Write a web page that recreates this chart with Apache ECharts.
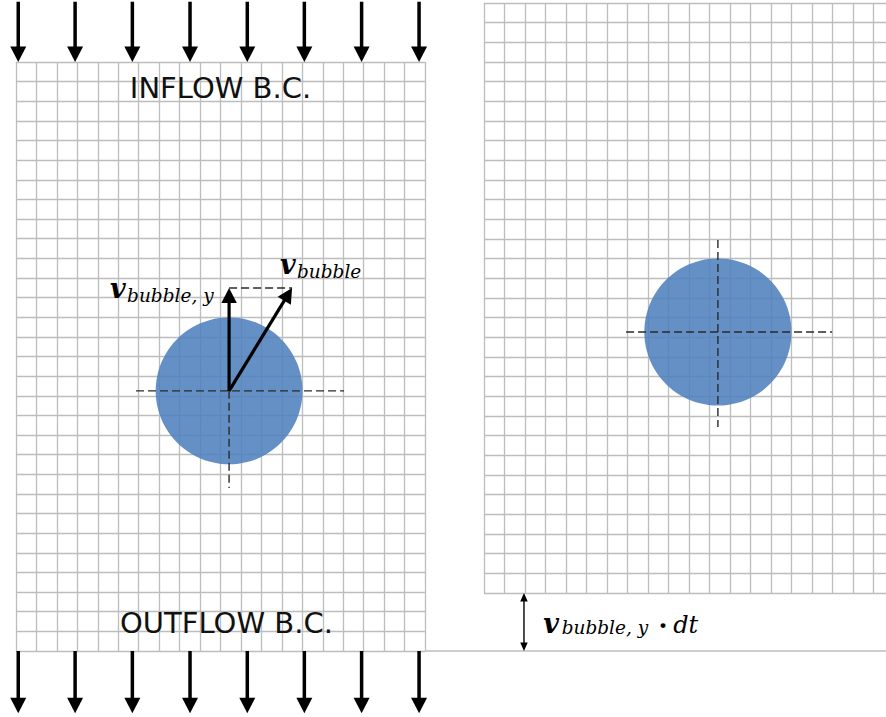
<!DOCTYPE html>
<html><head><meta charset="utf-8">
<script src="https://cdn.jsdelivr.net/npm/echarts@6/dist/echarts.min.js"></script>
<style>html,body{margin:0;padding:0;background:#fff}#c{width:886px;height:717px}</style>
</head><body><div id="c"></div>
<script>
// ---------- data (all in mesh-cell units) ----------
const meshCols = 20;
const meshRows = 30;
const flowArrowX = [0.11, 2.89, 5.69, 8.51, 11.31, 14.10, 16.90, 19.71];
const inflowArrowY = [33.07, 30.0];
const outflowArrowY = [0.0, -3.17];
const bubbleBefore = [[10.42, 13.25]];
const bubbleAfter = [[11.41, 13.27]];
const bubbleRadius = 3.59;
const crossBefore = [[5.87, 13.25, 16.04, 13.25], [10.42, 13.25, 10.42, 8.30]];
const crossAfter = [[6.93, 13.27, 16.98, 13.27], [11.41, 17.95, 11.41, 8.44]];
const velocityArrows = [[10.42, 13.25, 10.42, 18.49], [10.42, 13.25, 13.50, 18.49]];
const velocityGuide = [[10.42, 18.49, 13.50, 18.49]];
const bottomExtension = [[20, 0, 44, 0]];
const shiftArrow = [[1.95, 0, 1.95, -2.95]];
const bcLabelText = ['INFLOW B.C.', 'OUTFLOW B.C.'];
const bcLabelPos = [[10.0, 28.68], [10.29, 1.45]];
const velLabelSub = ['bubble, y', 'bubble'];
const velLabelPos = [[4.60, 18.0], [12.91, 19.19]];
const dtLabelSub = ['bubble, y'];
const dtLabelPos = [[2.89, -2.05]];

// ---------- styles ----------
const MESH_COLOR = '#bdbdbd';
const BUBBLE_FILL = 'rgba(79,129,189,0.88)';
const DASH = { stroke: '#2a2a2a', lineWidth: 1.4, lineDash: [8, 4] };

function arrow(p0, p1, shaftW, headL, headW, color, both) {
  const dx = p1[0] - p0[0], dy = p1[1] - p0[1];
  const len = Math.hypot(dx, dy);
  const ux = dx / len, uy = dy / len, nx = -uy, ny = ux;
  const bx = p1[0] - ux * headL, by = p1[1] - uy * headL;
  let sx = p0[0], sy = p0[1];
  const kids = [];
  if (both) {
    const ax = p0[0] + ux * headL, ay = p0[1] + uy * headL;
    kids.push({ type: 'polygon', shape: { points: [[p0[0], p0[1]], [ax + nx * headW / 2, ay + ny * headW / 2], [ax - nx * headW / 2, ay - ny * headW / 2]] }, style: { fill: color } });
    sx = ax - ux; sy = ay - uy;
  }
  kids.push({ type: 'line', shape: { x1: sx, y1: sy, x2: bx + ux, y2: by + uy }, style: { stroke: color, lineWidth: shaftW } });
  kids.push({ type: 'polygon', shape: { points: [[p1[0], p1[1]], [bx + nx * headW / 2, by + ny * headW / 2], [bx - nx * headW / 2, by - ny * headW / 2]] }, style: { fill: color } });
  return { type: 'group', children: kids };
}

function segData(arr) { return arr.map(a => a.slice()); }

const MAIN_FS = 27, SUB_FS = 18.5;
function mathV(px, py, sub, dx, dy) {
  return [
    { type: 'text', x: px, y: py - 0.346 * MAIN_FS, style: { text: 'v', fontSize: MAIN_FS, fontFamily: 'DejaVu Serif', fontStyle: 'italic', fontWeight: 'bold', fill: '#000', align: 'left', verticalAlign: 'middle' } },
    { type: 'text', x: px + dx, y: py + dy - 0.346 * SUB_FS, style: { text: sub, fontSize: SUB_FS, fontFamily: 'DejaVu Serif', fontStyle: 'italic', fill: '#000', align: 'left', verticalAlign: 'middle' } }
  ];
}

const axisBase = {
  type: 'value', axisLine: { show: false }, axisTick: { show: false }, axisLabel: { show: false },
  splitLine: { show: true, lineStyle: { color: MESH_COLOR, width: 1.3 } }, interval: 1
};

const chart = echarts.init(document.getElementById('c'), null, { renderer: 'svg' });
chart.setOption({
  animation: false,
  backgroundColor: '#ffffff',
  grid: [
    { left: 16, top: 62, width: 409, height: 589, containLabel: false, outerBoundsMode: 'none' },
    { left: 484, top: 3, width: 410, height: 590, containLabel: false, outerBoundsMode: 'none' }
  ],
  xAxis: [
    Object.assign({}, axisBase, { gridIndex: 0, min: 0, max: meshCols }),
    Object.assign({}, axisBase, { gridIndex: 1, min: 0, max: meshCols })
  ],
  yAxis: [
    Object.assign({}, axisBase, { gridIndex: 0, min: 0, max: meshRows }),
    Object.assign({}, axisBase, { gridIndex: 1, min: 0, max: meshRows })
  ],
  series: [
    { // bubble before
      type: 'custom', xAxisIndex: 0, yAxisIndex: 0, z: 3, data: bubbleBefore,
      renderItem: (p, api) => {
        const c = api.coord([api.value(0), api.value(1)]);
        return { type: 'circle', shape: { cx: c[0], cy: c[1], r: api.size([bubbleRadius, 0])[0] }, style: { fill: BUBBLE_FILL } };
      }
    },
    { // bubble after
      type: 'custom', xAxisIndex: 1, yAxisIndex: 1, z: 3, data: bubbleAfter,
      renderItem: (p, api) => {
        const c = api.coord([api.value(0), api.value(1)]);
        return { type: 'circle', shape: { cx: c[0], cy: c[1], r: api.size([bubbleRadius, 0])[0] }, style: { fill: BUBBLE_FILL } };
      }
    },
    { // dashed lines left
      type: 'custom', xAxisIndex: 0, yAxisIndex: 0, z: 4, data: segData(crossBefore.concat(velocityGuide)),
      renderItem: (p, api) => {
        const a = api.coord([api.value(0), api.value(1)]), b = api.coord([api.value(2), api.value(3)]);
        return { type: 'line', shape: { x1: a[0], y1: a[1], x2: b[0], y2: b[1] }, style: DASH };
      }
    },
    { // dashed lines right
      type: 'custom', xAxisIndex: 1, yAxisIndex: 1, z: 4, data: segData(crossAfter),
      renderItem: (p, api) => {
        const a = api.coord([api.value(0), api.value(1)]), b = api.coord([api.value(2), api.value(3)]);
        return { type: 'line', shape: { x1: a[0], y1: a[1], x2: b[0], y2: b[1] }, style: DASH };
      }
    },
    { // grey extension of bottom boundary
      type: 'custom', xAxisIndex: 0, yAxisIndex: 0, z: 1, data: segData(bottomExtension),
      renderItem: (p, api) => {
        const a = api.coord([api.value(0), api.value(1)]), b = api.coord([api.value(2), api.value(3)]);
        return { type: 'line', shape: { x1: a[0], y1: a[1], x2: b[0], y2: b[1] }, style: { stroke: MESH_COLOR, lineWidth: 1.6 } };
      }
    },
    { // inflow / outflow arrows
      type: 'custom', xAxisIndex: 0, yAxisIndex: 0, z: 5,
      data: flowArrowX.map(x => [x, inflowArrowY[0], x, inflowArrowY[1]])
        .concat(flowArrowX.map(x => [x, outflowArrowY[0], x, outflowArrowY[1]])),
      renderItem: (p, api) => {
        const a = api.coord([api.value(0), api.value(1)]), b = api.coord([api.value(2), api.value(3)]);
        return arrow(a, b, 3.5, 15.5, 16, '#000', false);
      }
    },
    { // velocity arrows
      type: 'custom', xAxisIndex: 0, yAxisIndex: 0, z: 6, data: segData(velocityArrows),
      renderItem: (p, api) => {
        const a = api.coord([api.value(0), api.value(1)]), b = api.coord([api.value(2), api.value(3)]);
        return arrow(a, b, 3.2, 15, 15.5, '#000', false);
      }
    },
    { // displacement double arrow
      type: 'custom', xAxisIndex: 1, yAxisIndex: 1, z: 6, data: segData(shiftArrow),
      renderItem: (p, api) => {
        const a = api.coord([api.value(0), api.value(1)]), b = api.coord([api.value(2), api.value(3)]);
        return arrow(a, b, 1.4, 8.5, 7.5, '#000', true);
      }
    },
    { // boundary condition labels
      type: 'custom', xAxisIndex: 0, yAxisIndex: 0, z: 7, data: segData(bcLabelPos),
      renderItem: (p, api) => {
        const c = api.coord([api.value(0), api.value(1)]);
        return { type: 'text', x: c[0], y: c[1], style: { text: bcLabelText[p.dataIndex], fontSize: 29, fontFamily: 'DejaVu Sans', fill: '#111', align: 'center', verticalAlign: 'middle' } };
      }
    },
    { // velocity labels
      type: 'custom', xAxisIndex: 0, yAxisIndex: 0, z: 7, data: segData(velLabelPos),
      renderItem: (p, api) => {
        const c = api.coord([api.value(0), api.value(1)]);
        const dy = p.dataIndex === 0 ? 4 : 3.4;
        return { type: 'group', children: mathV(c[0], c[1], velLabelSub[p.dataIndex], 17, dy) };
      }
    },
    { // displacement label
      type: 'custom', xAxisIndex: 1, yAxisIndex: 1, z: 7, data: segData(dtLabelPos),
      renderItem: (p, api) => {
        const c = api.coord([api.value(0), api.value(1)]);
        const kids = mathV(c[0], c[1], dtLabelSub[p.dataIndex], 18.4, 1);
        kids.push({ type: 'text', x: c[0] + 119.7, y: c[1] - 7.3, style: { text: '·', fontSize: 26, fontWeight: 'bold', fontFamily: 'DejaVu Serif', fill: '#000', align: 'center', verticalAlign: 'middle' } });
        kids.push({ type: 'text', x: c[0] + 130, y: c[1] - 0.346 * 24, style: { text: 'dt', fontSize: 24, fontFamily: 'DejaVu Serif', fontStyle: 'italic', fill: '#000', align: 'left', verticalAlign: 'middle' } });
        return { type: 'group', children: kids };
      }
    }
  ]
});
</script>
</body></html>
